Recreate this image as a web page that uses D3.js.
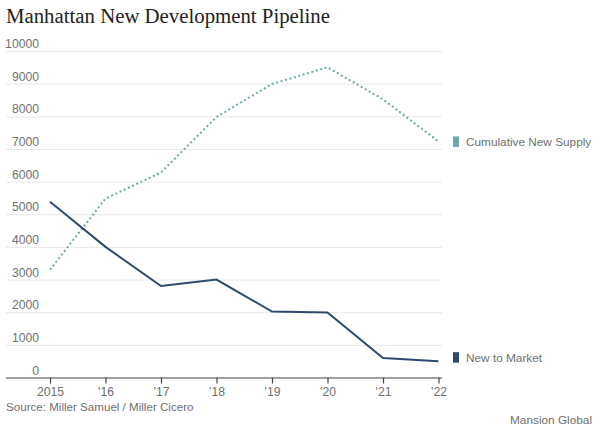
<!DOCTYPE html>
<html>
<head>
<meta charset="utf-8">
<script src="https://cdn.jsdelivr.net/npm/d3@7"></script>
<style>
  body { margin:0; background:#fff; }
  svg { display:block; font-family:"Liberation Sans", Arial, sans-serif; }
  .grid line { stroke:#e8e8e8; }
  .ylab { fill:#707070; font-size:12.2px; }
  .axis-x text { fill:#707070; font-size:12.2px; }
  .axis-x path, .axis-x line { stroke:#444; }
</style>
</head>
<body>
<div id="chart"></div>
<script>
// ====== données
const YEARS = ["2015","'16","'17","'18","'19","'20","'21","'22"];
const NEW_TO_MARKET = [5380, 4000, 2800, 3000, 2020, 1990, 600, 500];
const CUMULATIVE    = [3300, 5480, 6280, 7980, 8990, 9500, 8520, 7230];
const Y_TICKS = [0,1000,2000,3000,4000,5000,6000,7000,8000,9000,10000];
const SERIES = [
  {name:"Cumulative New Supply", values:CUMULATIVE, color:"#6fa8a9", dash:"2,2.6"},
  {name:"New to Market",         values:NEW_TO_MARKET, color:"#2e4a6f", dash:null}
];

// ====== dimensions
const W = 600, H = 428;
const M = {t:51, r:162, b:50.5, l:50};

const svg = d3.select("#chart").append("svg")
  .attr("width", W).attr("height", H);

const x = d3.scalePoint().domain(YEARS).range([M.l, 438.5]);
const y = d3.scaleLinear().domain([0,10000]).range([H - M.b, M.t]);

// titre
svg.append("text")
  .attr("x", 6).attr("y", 23)
  .attr("font-family", "'Liberation Serif', 'Times New Roman', serif")
  .attr("font-size", 20.8).attr("fill", "#222")
  .text("Manhattan New Development Pipeline");

// grille + labels y
const gy = svg.append("g").attr("class","grid");
gy.selectAll("line").data(Y_TICKS.filter(d => d > 0)).join("line")
  .attr("x1", 6).attr("x2", 442)
  .attr("y1", d => y(d) + 0.5).attr("y2", d => y(d) + 0.5);
svg.selectAll("text.ylab").data(Y_TICKS).join("text")
  .attr("class","ylab")
  .attr("x", 39).attr("y", d => y(d) - 3)
  .attr("text-anchor","end")
  .text(d => d);

// axe x
svg.append("g").attr("class","axis-x")
  .attr("transform", `translate(0,${y(0)})`)
  .call(d3.axisBottom(x).tickSize(6).tickPadding(4))
  .call(g => g.select(".domain").attr("d", `M6,0.5H442`).attr("stroke-width", 1.2))
  .call(g => g.selectAll(".tick line").attr("stroke-width", 1.2));

// lignes
const line = d3.line().x((d,i) => x(YEARS[i])).y(d => y(d));
SERIES.forEach(s => {
  svg.append("path")
    .datum(s.values)
    .attr("fill","none")
    .attr("stroke", s.color)
    .attr("stroke-width", 2)
    .attr("stroke-dasharray", s.dash)
    .attr("d", line);
});

// légende à droite
SERIES.forEach(s => {
  const last = s.values[s.values.length - 1];
  const cy = s.name === "New to Market" ? y(last) - 4 : y(last);
  svg.append("rect")
    .attr("x", 453).attr("y", cy - 5)
    .attr("width", 6).attr("height", 10.5)
    .attr("fill", s.color);
  svg.append("text")
    .attr("x", 466).attr("y", cy + 4.5)
    .attr("font-size", 11.8).attr("fill", "#707070")
    .text(s.name);
});

// sources
svg.append("text")
  .attr("x", 6).attr("y", 411)
  .attr("font-size", 11.6).attr("fill", "#707070")
  .text("Source: Miller Samuel / Miller Cicero");
svg.append("text")
  .attr("x", 592).attr("y", 423.5)
  .attr("text-anchor","end")
  .attr("font-size", 11.8).attr("fill", "#707070")
  .text("Mansion Global");
</script>
</body>
</html>
